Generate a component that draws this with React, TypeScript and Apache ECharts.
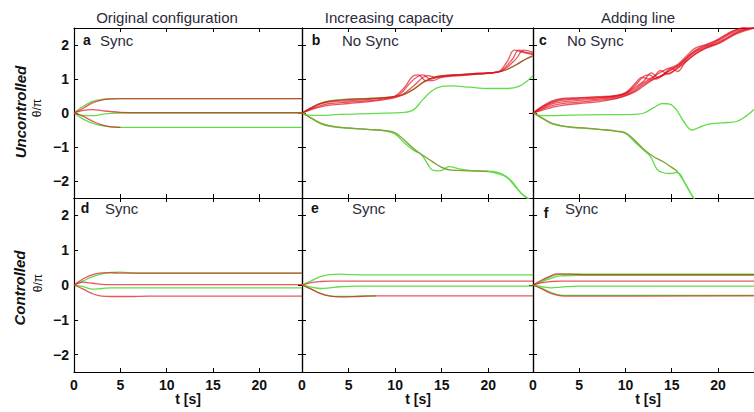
import React, { useEffect, useRef } from 'react';
import * as echarts from 'echarts';

type Pt = [number, number];

// ---------- texts & ticks ----------
const columnTitles = ['Original configuration', 'Increasing capacity', 'Adding line'];
const rowTitles = ['Uncontrolled', 'Controlled'];
const panelLetters = ['a', 'b', 'c', 'd', 'e', 'f'];
const panelStatus = ['Sync', 'No Sync', 'No Sync', 'Sync', 'Sync', 'Sync'];
const xTicks = [0, 5, 10, 15, 20];
const yTicks = [-2, -1, 0, 1, 2];
const xMaxByColumn = [24.6, 24.8, 23.9];
const yMin = -2.5;
const yMax = 2.5;

// ---------- panel a: original configuration, uncontrolled ----------
const aGreenUp: Pt[] = [[0, 0], [1, 0.2], [2, 0.34], [3, 0.4], [4, 0.42], [5, 0.42], [24.6, 0.42]];
const aGreenMid: Pt[] = [[0, 0], [1, -0.07], [2, -0.08], [3, -0.04], [4, -0.01], [5, 0.0], [24.6, 0.0]];
const aGreenLow: Pt[] = [[0, 0], [1, -0.18], [2, -0.3], [3, -0.37], [4, -0.41], [5, -0.42], [24.6, -0.42]];
const aRedUp: Pt[] = [[0, 0], [1, 0.14], [2, 0.3], [3, 0.38], [4, 0.41], [5, 0.42], [24.6, 0.42]];
const aRedMid: Pt[] = [[0, 0], [1, 0.08], [2, 0.1], [3, 0.07], [4, 0.04], [5, 0.02], [7, 0.01], [24.6, 0.01]];
const aRedLow: Pt[] = [[0, 0], [1, -0.1], [2, -0.24], [3, -0.35], [4, -0.41], [5, -0.42]];

// ---------- panel b: increasing capacity, uncontrolled ----------
const bGreenFlat: Pt[] = [[0, 0], [1, -0.07], [2, -0.07], [4, -0.04], [8, -0.01], [11, 0.02], [12, 0.1], [13, 0.4], [14, 0.66], [15, 0.78], [16, 0.8], [18, 0.76], [20, 0.72], [22, 0.72], [23.3, 0.78], [24.2, 0.95], [24.8, 1.1]];
const bGreenUp: Pt[] = [[0, 0], [1, 0.16], [2, 0.29], [3, 0.36], [5, 0.41], [7, 0.43], [9, 0.46], [10, 0.49], [11, 0.56], [12, 0.71], [13, 0.9], [14, 1.03], [15, 1.1], [17, 1.12], [19, 1.15], [21, 1.2], [22, 1.28], [23, 1.42], [24, 1.58], [24.8, 1.68]];
const bGreenLow1: Pt[] = [[0, 0], [1, -0.15], [2, -0.3], [3, -0.38], [5, -0.44], [7, -0.48], [9, -0.52], [10, -0.58], [11, -0.8], [12, -1.05], [13, -1.25], [14, -1.43], [15, -1.6], [16, -1.68], [18, -1.7], [20, -1.72], [21, -1.78], [22, -1.9], [23, -2.2], [24, -2.48], [24.8, -2.6]];
const bGreenLow2: Pt[] = [[0, 0], [1, -0.15], [2, -0.31], [3, -0.39], [5, -0.45], [7, -0.48], [9, -0.53], [10, -0.62], [11, -0.88], [12, -1.1], [12.8, -1.22], [13.5, -1.5], [14, -1.68], [14.8, -1.7], [15.8, -1.58], [17, -1.65], [18.5, -1.7], [20.5, -1.72], [21.5, -1.8], [22.5, -2.0], [23.5, -2.35], [24.5, -2.55], [24.8, -2.6]];
const bRed1: Pt[] = [[0, 0], [1, 0.15], [2, 0.27], [3, 0.33], [5, 0.36], [7, 0.4], [9, 0.45], [10, 0.5], [11, 0.75], [12, 1.1], [12.5, 1.12], [13.3, 0.95], [14, 0.95], [15, 1.05], [17, 1.1], [19, 1.15], [21, 1.2], [22, 1.5], [22.8, 1.85], [23.5, 1.8], [24.8, 1.72]];
const bRed2: Pt[] = [[0, 0], [1, 0.12], [2, 0.22], [3, 0.28], [5, 0.32], [7, 0.36], [9, 0.42], [10.5, 0.55], [11.5, 0.85], [12.3, 1.05], [13, 1.12], [13.8, 1.0], [15, 1.08], [17, 1.13], [19, 1.17], [21, 1.2], [22.5, 1.55], [23.3, 1.85], [24, 1.78], [24.8, 1.75]];
const bRed3: Pt[] = [[0, 0], [1, 0.1], [2, 0.18], [3, 0.23], [5, 0.28], [7, 0.33], [9, 0.4], [10.5, 0.5], [12, 0.8], [13, 1.05], [13.5, 1.1], [14.3, 1.05], [16, 1.1], [18, 1.15], [20, 1.18], [21.5, 1.25], [23, 1.6], [23.8, 1.85], [24.8, 1.78]];
const bRed4: Pt[] = [[0, 0], [1, 0.15], [2, 0.28], [3, 0.35], [5, 0.4], [7, 0.42], [9, 0.45], [10, 0.48], [11, 0.55], [12, 0.7], [13, 0.9], [14, 1.03], [15, 1.1], [17, 1.12], [19, 1.15], [21, 1.2], [22, 1.28], [23, 1.42], [24, 1.58], [24.8, 1.68]];
const bRedLow: Pt[] = [[0, 0], [1, -0.15], [2, -0.3], [3, -0.38], [5, -0.44], [7, -0.48], [9, -0.52], [10, -0.58], [11, -0.8], [12, -1.05], [13, -1.25], [14, -1.43], [15, -1.6], [16, -1.68], [18, -1.7], [20, -1.72]];

// ---------- panel c: adding line, uncontrolled ----------
const cGreenMid: Pt[] = [[0, 0], [1, -0.08], [2, -0.08], [4, -0.06], [8, -0.05], [10, -0.05], [11, -0.04], [12, 0.0], [13, 0.15], [14, 0.28], [14.8, 0.26], [15.5, 0.1], [16.3, -0.25], [17.2, -0.5], [18, -0.42], [19, -0.33], [20, -0.3], [21, -0.28], [22, -0.25], [23, -0.1], [23.9, 0.1]];
const cGreenLow1: Pt[] = [[0, 0], [1, -0.15], [2, -0.3], [3, -0.37], [4, -0.41], [6, -0.45], [8, -0.5], [9, -0.53], [10, -0.58], [11, -0.8], [12, -1.07], [13, -1.28], [14, -1.42], [15, -1.6], [15.6, -1.72], [16.5, -2.1], [17.3, -2.47], [18, -2.7]];
const cGreenLow2: Pt[] = [[0, 0], [1, -0.15], [2, -0.31], [3, -0.38], [4, -0.42], [6, -0.46], [8, -0.5], [9, -0.54], [10, -0.6], [11, -0.85], [12, -1.1], [12.7, -1.28], [13.4, -1.65], [14, -1.75], [14.8, -1.78], [15.6, -1.75], [16.5, -2.1], [17.3, -2.47], [18, -2.7]];
const cRed1: Pt[] = [[0, 0], [1, 0.2], [2, 0.35], [3, 0.42], [5, 0.45], [7, 0.48], [9, 0.52], [10, 0.6], [11, 0.85], [11.8, 1.05], [12.5, 1.0], [13.5, 1.15], [14.5, 1.3], [15.5, 1.4], [16.5, 1.65], [17.5, 1.9], [18.5, 2.0], [19.5, 2.1], [20.5, 2.25], [21.5, 2.4], [22.5, 2.48], [23.9, 2.6]];
const cRed2: Pt[] = [[0, 0], [1, 0.17], [2, 0.3], [3, 0.37], [5, 0.41], [7, 0.44], [9, 0.5], [10, 0.57], [11, 0.75], [12, 0.95], [12.8, 1.18], [13.5, 1.05], [14.5, 1.2], [15.5, 1.35], [16.5, 1.6], [17.5, 1.82], [18.5, 1.95], [19.5, 2.05], [20.5, 2.2], [21.5, 2.35], [22.5, 2.45], [23.9, 2.55]];
const cRed3: Pt[] = [[0, 0], [1, 0.14], [2, 0.26], [3, 0.32], [5, 0.37], [7, 0.41], [9, 0.47], [10, 0.55], [11, 0.7], [12, 0.9], [13, 1.05], [13.8, 1.25], [14.6, 1.15], [15.5, 1.3], [16.5, 1.55], [17.5, 1.78], [18.5, 1.92], [19.5, 2.02], [20.5, 2.15], [21.5, 2.3], [22.5, 2.42], [23.9, 2.52]];
const cRed4: Pt[] = [[0, 0], [1, 0.11], [2, 0.21], [3, 0.27], [5, 0.32], [7, 0.37], [9, 0.44], [10, 0.52], [11, 0.65], [12, 0.85], [13, 1.0], [14, 1.12], [15, 1.32], [15.6, 1.22], [16.5, 1.5], [17.5, 1.72], [18.5, 1.88], [19.5, 1.98], [20.5, 2.1], [21.5, 2.26], [22.5, 2.38], [23.9, 2.5]];
const cRed5: Pt[] = [[0, 0], [1, 0.08], [2, 0.16], [3, 0.22], [5, 0.28], [7, 0.33], [9, 0.42], [10, 0.5], [11, 0.62], [12, 0.8], [13, 0.98], [14, 1.1], [15, 1.2], [16, 1.38], [17, 1.62], [18, 1.82], [19, 1.95], [20, 2.05], [21, 2.2], [22, 2.35], [23, 2.45], [23.9, 2.5]];
const cRed6: Pt[] = [[0, 0], [1, 0.18], [2, 0.32], [3, 0.4], [5, 0.44], [7, 0.46], [9, 0.5], [10, 0.58], [11, 0.8], [12, 1.08], [12.6, 1.12], [13.3, 1.0], [14, 1.1], [15, 1.3], [16, 1.45], [17, 1.72], [18, 1.92], [19, 2.02], [20, 2.15], [21, 2.3], [22, 2.45], [23.9, 2.62]];
const cRedLow: Pt[] = [[0, 0], [1, -0.15], [2, -0.3], [3, -0.37], [4, -0.41], [6, -0.45], [8, -0.5], [9, -0.53], [10, -0.58], [11, -0.8], [12, -1.07], [13, -1.28], [14, -1.42], [15, -1.6], [15.6, -1.72]];

// ---------- panel d: original configuration, controlled ----------
const dGreenUp: Pt[] = [[0, 0], [1, 0.12], [2, 0.24], [3, 0.32], [4, 0.36], [5, 0.37], [6, 0.35], [8, 0.34], [24.6, 0.34]];
const dGreenMid: Pt[] = [[0, 0], [1, -0.05], [2, -0.12], [3, -0.1], [4, -0.08], [6, -0.08], [24.6, -0.08]];
const dRedUp: Pt[] = [[0, 0], [1, 0.18], [2, 0.3], [3, 0.35], [4, 0.35], [5, 0.34], [8, 0.34], [24.6, 0.34]];
const dRedMid: Pt[] = [[0, 0], [1, 0.08], [2, 0.05], [3, 0.02], [5, 0.01], [24.6, 0.01]];
const dRedLow: Pt[] = [[0, 0], [1, -0.12], [2, -0.25], [3, -0.32], [4, -0.33], [6, -0.33], [8, -0.32], [24.6, -0.32]];

// ---------- panel e: increasing capacity, controlled ----------
const eGreenUp: Pt[] = [[0, 0], [1, 0.12], [2, 0.24], [3, 0.3], [4, 0.31], [5, 0.3], [7, 0.29], [24.8, 0.29]];
const eGreenMid: Pt[] = [[0, 0], [1, -0.06], [2, -0.1], [3, -0.08], [4, -0.05], [6, -0.03], [24.8, -0.03]];
const eGreenLow: Pt[] = [[0, 0], [1, -0.12], [2, -0.24], [3, -0.31], [4, -0.33], [6, -0.32], [8, -0.31]];
const eRedMid: Pt[] = [[0, 0], [1, 0.07], [2, 0.1], [3, 0.11], [24.8, 0.11]];
const eRedLow: Pt[] = [[0, 0], [1, -0.12], [2, -0.25], [3, -0.32], [4, -0.34], [6, -0.33], [8, -0.31], [24.8, -0.31]];

// ---------- panel f: adding line, controlled ----------
const fGreenUp1: Pt[] = [[0, 0], [1, 0.12], [2, 0.25], [3, 0.31], [5, 0.31], [23.9, 0.31]];
const fGreenUp2: Pt[] = [[0, 0], [1, 0.1], [2, 0.2], [3, 0.26], [5, 0.28], [23.9, 0.28]];
const fGreenMid: Pt[] = [[0, 0], [1, -0.05], [2, -0.08], [3, -0.06], [5, -0.03], [23.9, -0.03]];
const fGreenLow: Pt[] = [[0, 0], [1, -0.1], [2, -0.22], [3, -0.29], [5, -0.3], [23.9, -0.3]];
const fRedUp: Pt[] = [[0, 0], [1, 0.15], [2, 0.27], [2.5, 0.32], [4, 0.31], [6, 0.3], [23.9, 0.3]];
const fRedMid: Pt[] = [[0, 0], [1, 0.07], [2, 0.1], [3, 0.11], [23.9, 0.11]];
const fRedLow: Pt[] = [[0, 0], [1, -0.12], [2, -0.25], [3, -0.31], [4, -0.32], [23.9, -0.31]];

const panelGreen: Pt[][][] = [
  [aGreenUp, aGreenMid, aGreenLow],
  [bGreenFlat, bGreenUp, bGreenLow1, bGreenLow2],
  [cGreenMid, cGreenLow1, cGreenLow2],
  [dGreenUp, dGreenMid],
  [eGreenUp, eGreenMid, eGreenLow],
  [fGreenUp1, fGreenUp2, fGreenMid, fGreenLow],
];
const panelRed: Pt[][][] = [
  [aRedUp, aRedMid, aRedLow],
  [bRed1, bRed2, bRed3, bRed4, bRedLow],
  [cRed1, cRed2, cRed3, cRed4, cRed5, cRed6, cRedLow],
  [dRedUp, dRedMid, dRedLow],
  [eRedMid, eRedLow],
  [fRedUp, fRedMid, fRedLow],
];

// ---------- layout & style ----------
const FONT = '"Liberation Sans", Arial, Helvetica, sans-serif';
const GRID_LEFT = [74, 302, 533];
const GRID_WIDTH = [228, 231, 221];
const GRID_TOP = [28, 198];
const GRID_HEIGHT = [170, 174];
const RED = '#e0101e';
const GREEN = '#62dd4a';
const FAINT_LINES = new Set<Pt[]>([bRedLow, cRedLow]);

const fmt = (v: number) => (v < 0 ? '\u2212' + Math.abs(v) : String(v));

function buildOption() {
  const grid: any[] = [];
  const xAxis: any[] = [];
  const yAxis: any[] = [];
  const series: any[] = [];
  const lineStyleBase = { color: '#000', width: 1.2 };
  for (let p = 0; p < 6; p++) {
    const r = Math.floor(p / 3);
    const c = p % 3;
    grid.push({ left: GRID_LEFT[c], top: GRID_TOP[r], width: GRID_WIDTH[c], height: GRID_HEIGHT[r] });
    const xCommon = {
      gridIndex: p, type: 'value', min: 0, max: xMaxByColumn[c],
      splitLine: { show: false },
      axisTick: { show: true, inside: true, length: 4, customValues: xTicks, lineStyle: { color: '#000', width: 1 } },
    };
    xAxis.push({
      ...xCommon, position: 'bottom',
      axisLine: { show: true, onZero: false, lineStyle: lineStyleBase },
      axisLabel: { show: r === 1, customValues: xTicks, fontWeight: 'bold', fontSize: 14, color: '#111', margin: 6, fontFamily: FONT },
    });
    xAxis.push({
      ...xCommon, position: 'top',
      axisLine: { show: true, onZero: false, lineStyle: lineStyleBase },
      axisLabel: { show: false },
    });
    const yCommon = {
      gridIndex: p, type: 'value', min: yMin, max: yMax,
      splitLine: { show: false },
    };
    yAxis.push({
      ...yCommon, position: 'left',
      axisLine: { show: true, onZero: false, lineStyle: lineStyleBase },
      axisTick: { show: true, inside: true, length: 4, customValues: yTicks, lineStyle: { color: '#000', width: 1 } },
      axisLabel: { show: c === 0, customValues: yTicks, formatter: fmt, fontWeight: 'bold', fontSize: 14, color: '#111', margin: 5, fontFamily: FONT },
    });
    yAxis.push({
      ...yCommon, position: 'right',
      axisLine: { show: c < 2, onZero: false, lineStyle: lineStyleBase },
      axisTick: { show: c < 2, inside: true, length: 4, customValues: yTicks, lineStyle: { color: '#000', width: 1 } },
      axisLabel: { show: false },
    });
    const addLines = (lines: Pt[][], color: string, opacity: number) => {
      lines.forEach((d) => {
        series.push({
          type: 'line', xAxisIndex: 2 * p, yAxisIndex: 2 * p, data: d,
          showSymbol: false, symbol: 'none', smooth: 0.4, clip: true,
          lineStyle: { color, width: 1.3, opacity: FAINT_LINES.has(d) ? 0.3 : opacity },
          itemStyle: { color },
          silent: true,
        });
      });
    };
    addLines(panelGreen[p], GREEN, 1);
    addLines(panelRed[p], RED, 0.7);
  }

  const graphic: any[] = [];
  const colCenters = [167, 389, 638];
  columnTitles.forEach((t, i) => {
    graphic.push({ type: 'text', x: colCenters[i], y: 17, style: { text: t, font: `15px ${FONT}`, fill: '#2b2b3b', align: 'center', verticalAlign: 'middle' } });
  });
  const letterPos = [[87, 40], [316, 40], [543, 40], [85, 208], [315, 208], [546, 213]];
  const statusPos = [[100, 40], [342, 40], [567, 40], [105, 208], [352, 208], [565, 208]];
  panelLetters.forEach((l, i) => {
    graphic.push({ type: 'text', x: letterPos[i][0], y: letterPos[i][1], style: { text: l, font: `bold 14px ${FONT}`, fill: '#111', align: 'center', verticalAlign: 'middle' } });
    graphic.push({ type: 'text', x: statusPos[i][0], y: statusPos[i][1], style: { text: panelStatus[i], font: `15px ${FONT}`, fill: '#2b2b3b', align: 'left', verticalAlign: 'middle' } });
  });
  const tCenters = [188, 418, 648];
  tCenters.forEach((x) => {
    graphic.push({ type: 'text', x, y: 399, style: { text: 't [s]', font: `bold 14px ${FONT}`, fill: '#111', align: 'center', verticalAlign: 'middle' } });
  });
  const rowCenters = [[20, 112, 37, 108], [19, 288, 38, 283]];
  rowTitles.forEach((t, i) => {
    const [x1, y1, x2, y2] = rowCenters[i];
    graphic.push({ type: 'text', x: x1, y: y1, rotation: Math.PI / 2, style: { text: t, font: `italic bold 15px ${FONT}`, fill: '#111', align: 'center', verticalAlign: 'middle' } });
    graphic.push({ type: 'text', x: x2, y: y2, rotation: Math.PI / 2, style: { text: '\u03b8/\u03c0', font: `12px ${FONT}`, fill: '#111', align: 'center', verticalAlign: 'middle' } });
  });

  return { animation: false, backgroundColor: '#fff', grid, xAxis, yAxis, series, graphic };
}

export default function App() {
  const ref = useRef<HTMLDivElement>(null);
  useEffect(() => {
    if (!ref.current) return;
    const chart = echarts.init(ref.current, undefined, { renderer: 'svg' });
    chart.setOption(buildOption() as any);
    return () => chart.dispose();
  }, []);
  return <div ref={ref} style={{ position: 'fixed', left: 0, top: 0, width: 754, height: 412 }} />;
}
